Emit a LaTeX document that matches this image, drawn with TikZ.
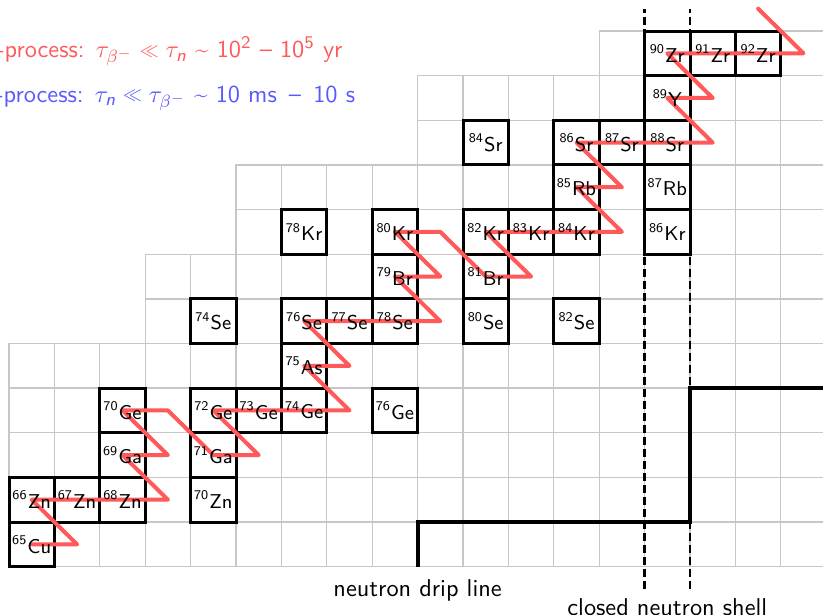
\documentclass[tikz,border=0pt]{standalone}
\usepackage{fontspec}
\usepackage{amsmath}
\usepackage{graphicx}
\newcommand\sfit[1]{\text{\sffamily\itshape #1}}
\newcommand\myll{\mathrel{\raisebox{0.6pt}{\scalebox{0.78}{$\ll$}}}}
\tikzset{
  gridline/.style={draw=black!22, line width=0.6pt},
  nucbox/.style={draw=black, line width=1.35pt, minimum width=20.43pt, minimum height=20.088pt, inner sep=0pt, outer sep=0pt},
  nuclabel/.style={font=\fontsize{9}{10}\selectfont\sffamily, inner sep=0pt},
  spath/.style={draw=red!65, line width=1.8pt, line join=round, line cap=round},
  dripline/.style={draw=black, line width=1.8pt},
  shellline/.style={draw=black, line width=1.2pt, dash pattern=on 3.8pt off 1.6pt},
  captext/.style={font=\fontsize{10.95}{13}\selectfont\sffamily, inner sep=0pt}
}
\begin{document}
\begin{tikzpicture}[x=20.43pt, y=20.088pt]
\useasboundingbox (35.302,27.440) rectangle (53.430,41.195);
\clip (35.302,27.440) rectangle (53.430,41.195);
% grid
\foreach \z/\a in {29/36,30/36,31/36,32/36,33/36,34/39,35/39,36/41,37/41,38/45,39/45,40/49}{
  \foreach \n in {\a,...,53}{
    \draw[gridline] (\n-0.5,\z-0.5) rectangle +(1,1);
  }
}
% neutron drip line
\coordinate (d1) at (44.5,28.5);
\coordinate (d2) at (44.5,29.5);
\coordinate (d3) at (50.5,29.5);
\coordinate (d4) at (50.5,32.5);
\coordinate (d5) at (54,32.5);
\draw[dripline] (d1) -- (d2) -- (d3) -- (d4) -- (d5);
% closed neutron shell
\coordinate (s1a) at (49.5,28); \coordinate (s1b) at (49.5,41);
\coordinate (s2a) at (50.5,28); \coordinate (s2b) at (50.5,41);
\draw[shellline] (s1a) -- (s1b);
\draw[shellline] (s2a) -- (s2b);
% stable nuclei boxes
\def\nuclist{Cu65/36/29/65/Cu, Zn66/36/30/66/Zn, Zn67/37/30/67/Zn, Zn68/38/30/68/Zn, Zn70/40/30/70/Zn,
  Ga69/38/31/69/Ga, Ga71/40/31/71/Ga, Ge70/38/32/70/Ge, Ge72/40/32/72/Ge, Ge73/41/32/73/Ge, Ge74/42/32/74/Ge, Ge76/44/32/76/Ge,
  As75/42/33/75/As, Se74/40/34/74/Se, Se76/42/34/76/Se, Se77/43/34/77/Se, Se78/44/34/78/Se, Se80/46/34/80/Se, Se82/48/34/82/Se,
  Br79/44/35/79/Br, Br81/46/35/81/Br, Kr78/42/36/78/Kr, Kr80/44/36/80/Kr, Kr82/46/36/82/Kr, Kr83/47/36/83/Kr, Kr84/48/36/84/Kr, Kr86/50/36/86/Kr,
  Rb85/48/37/85/Rb, Rb87/50/37/87/Rb, Sr84/46/38/84/Sr, Sr86/48/38/86/Sr, Sr87/49/38/87/Sr, Sr88/50/38/88/Sr,
  Y89/50/39/89/Y, Zr90/50/40/90/Zr, Zr91/51/40/91/Zr, Zr92/52/40/92/Zr}
\foreach \nm/\n/\z/\a/\s in \nuclist{
  \node[nucbox] (\nm) at (\n,\z) {};
}
% unstable nuclei on the path
\coordinate (Cu66) at (37,29);
\coordinate (Zn69) at (39,30);
\coordinate (Ga70) at (39,31);
\coordinate (Ge71) at (39,32);
\coordinate (Ga72) at (41,31);
\coordinate (Ge75) at (43,32);
\coordinate (As76) at (43,33);
\coordinate (Se79) at (45,34);
\coordinate (Br80) at (45,35);
\coordinate (Kr81) at (45,36);
\coordinate (Br82) at (47,35);
\coordinate (Kr85) at (49,36);
\coordinate (Rb86) at (49,37);
\coordinate (Sr89) at (51,38);
\coordinate (Y90) at (51,39);
\coordinate (Zr93) at (53,40);
\coordinate (Nb93) at (52,41);
% s-process path
\draw[spath] (Cu65.center) -- (Cu66) -- (Zn66.center) -- (Zn67.center) -- (Zn68.center) -- (Zn69)
  -- (Ga69.center) -- (Ga70) -- (Ge70.center) -- (Ge71) -- (Ga71.center) -- (Ga72)
  -- (Ge72.center) -- (Ge73.center) -- (Ge74.center) -- (Ge75) -- (As75.center) -- (As76)
  -- (Se76.center) -- (Se77.center) -- (Se78.center) -- (Se79) -- (Br79.center) -- (Br80)
  -- (Kr80.center) -- (Kr81) -- (Br81.center) -- (Br82) -- (Kr82.center) -- (Kr83.center)
  -- (Kr84.center) -- (Kr85) -- (Rb85.center) -- (Rb86) -- (Sr86.center) -- (Sr87.center)
  -- (Sr88.center) -- (Sr89) -- (Y89.center) -- (Y90) -- (Zr90.center) -- (Zr91.center)
  -- (Zr92.center) -- (Zr93) -- (Nb93);
% labels
\foreach \nm/\n/\z/\a/\s in \nuclist{
  \node[nuclabel] (\nm-t) at (\nm.center) {\textsuperscript{\a}\s};
}
% texts
\node[captext, anchor=base west, text=red!65] (sproc) at (35.01,39.907)
  {s-process:\hspace{5pt}$\tau_{\beta^-} \myll \tau_{\sfit{n}}$ \textasciitilde{} 10\textsuperscript{2} -- 10\textsuperscript{5} yr};
\node[captext, anchor=base west, text=blue!65] (rproc) at (35.01,38.907)
  {r-process:\hspace{5pt}$\tau_{\sfit{n}} \myll \tau_{\beta^-}$ \textasciitilde{} 10 ms \,--\, 10 s};
\node[captext, anchor=base] (driptext) at (44.5,27.832) {neutron drip line};
\node[captext, anchor=base] (shelltext) at (50,27.41) {closed neutron shell};
\end{tikzpicture}
\end{document}
